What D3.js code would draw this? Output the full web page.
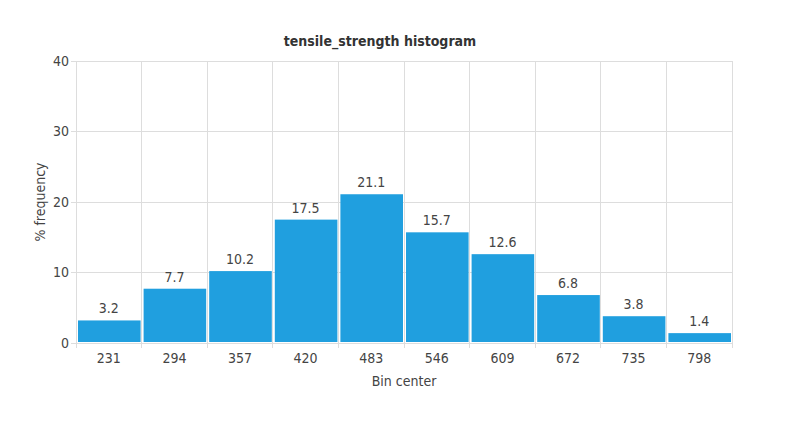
<!DOCTYPE html>
<html><head><meta charset="utf-8">
<script src="https://cdn.jsdelivr.net/npm/d3@7"></script>
<style>body{margin:0;background:#fff}svg text{font-family:"DejaVu Sans Condensed","DejaVu Sans",sans-serif;fill:#444}</style>
</head><body>
<svg id="c" width="800" height="440"></svg>
<script>
const categories = ["231","294","357","420","483","546","609","672","735","798"];
const values = [3.2,7.7,10.2,17.5,21.1,15.7,12.6,6.8,3.8,1.4];
const yTicks = [0,10,20,30,40];
const title = "tensile_strength histogram";

const svg = d3.select("#c");
const m = {l:76, r:68, t:61, b:97};
const W = 800 - m.l - m.r, H = 440 - m.t - m.b;
const x = d3.scaleBand().domain(categories).range([m.l, m.l + W]).padding(0);
const y = d3.scaleLinear().domain([0,40]).range([m.t + H, m.t]);
const grid = "#dddddd";

// vertical grid at bin edges
const edges = categories.map(c => x(c)).concat([m.l + W]);
svg.append("g").selectAll("line").data(edges).join("line")
  .attr("x1", d => d).attr("x2", d => d).attr("y1", m.t).attr("y2", m.t + H + 5)
  .attr("stroke", grid).attr("stroke-width", 1).attr("shape-rendering","crispEdges");
// horizontal grid
svg.append("g").selectAll("line").data(yTicks).join("line")
  .attr("x1", m.l - 5).attr("x2", m.l + W).attr("y1", d => y(d)).attr("y2", d => y(d))
  .attr("stroke", grid).attr("shape-rendering","crispEdges");

// y labels
svg.append("g").selectAll("text").data(yTicks).join("text")
  .attr("x", m.l - 7).attr("y", d => y(d)).attr("dy","0.35em").attr("text-anchor","end")
  .attr("font-size", 14).text(d => d);
// x labels
svg.append("g").selectAll("text").data(categories).join("text")
  .attr("x", d => x(d) + x.bandwidth()/2).attr("y", m.t + H + 20).attr("text-anchor","middle")
  .attr("font-size", 14).text(d => d);

// bars
svg.append("g").selectAll("rect").data(values).join("rect")
  .attr("x", (d,i) => x(categories[i]) + 2).attr("width", x.bandwidth() - 3)
  .attr("y", d => y(d)).attr("height", d => y(0) - y(d) - 1)
  .attr("fill", "#209fdf");
// value labels
svg.append("g").selectAll("text").data(values).join("text")
  .attr("x", (d,i) => x(categories[i]) + x.bandwidth()/2).attr("y", d => y(d) - 7)
  .attr("text-anchor","middle").attr("font-size", 14).text(d => d.toFixed(1));

// titles
svg.append("text").attr("x", 380).attr("y", 46).attr("text-anchor","middle")
  .attr("font-size", 14).attr("font-weight","bold").style("fill","#333").text(title);
svg.append("text").attr("x", m.l + W/2).attr("y", 386).attr("text-anchor","middle")
  .attr("font-size", 14).text("Bin center");
svg.append("text").attr("transform", `translate(45,${m.t + H/2}) rotate(-90)`)
  .attr("text-anchor","middle").attr("font-size", 14).text("% frequency");
</script>
</body></html>
